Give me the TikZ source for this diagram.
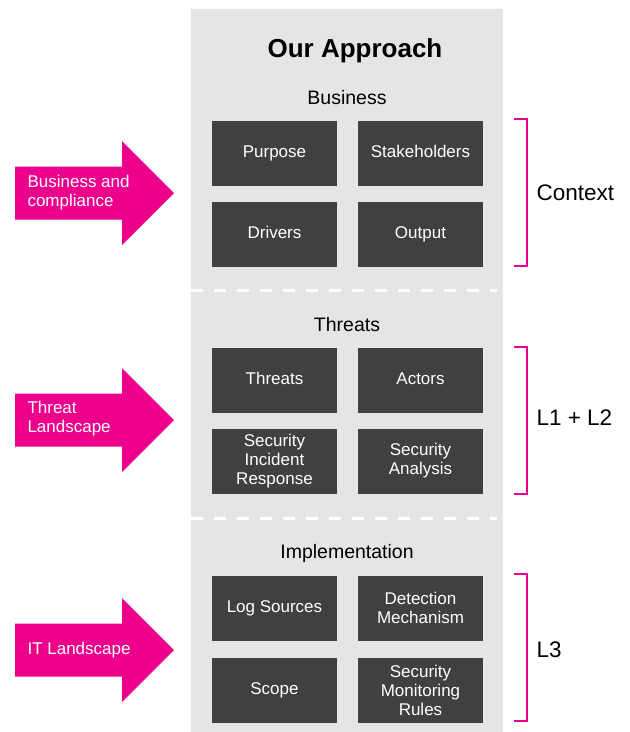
\documentclass[tikz,border=0pt]{standalone}
\usepackage{fontspec}
\setmainfont{Liberation Sans}
\usepackage{xcolor}
\definecolor{tmagenta}{HTML}{EC008C}
\definecolor{panelgray}{HTML}{E5E5E5}
\definecolor{boxgray}{HTML}{404040}

\begin{document}
\begin{tikzpicture}[x=1pt,y=-1pt,
    box/.style={fill=boxgray,text=white,minimum width=125pt,minimum height=65pt,inner sep=2pt,align=center,font=\fontsize{17}{19}\selectfont},
    onebox/.style={box,text height=12.5pt,text depth=3.5pt},
    heading/.style={font=\fontsize{19.5}{23}\selectfont},
    side/.style={anchor=west,font=\fontsize{22.5}{26}\selectfont},
    bracket/.style={draw=tmagenta,line width=2pt},
    divider/.style={draw=white,line width=3pt,dash pattern=on 12pt off 11pt},
    arrowtext/.style={anchor=west,align=left,text=white,font=\fontsize{17}{19}\selectfont}]

        \useasboundingbox (0,0) rectangle (630,732);
        \fill[panelgray] (191,9) rectangle (503,732);

        \node[font=\bfseries\fontsize{26}{30}\selectfont] (title) at (355,51) {Our Approach};

        \node[heading] (business) at (347,98) {Business};
        \node[onebox] (purpose) at (274.5,153) {Purpose};
        \node[onebox] (stakeholders) at (420.5,153) {Stakeholders};
        \node[onebox] (drivers) at (274.5,234) {Drivers};
        \node[onebox] (output) at (420.5,234) {Output};

        \draw[divider] (191,290) -- (497,290);

        \node[heading] (threats) at (347,325) {Threats};
        \node[onebox] (threatbox) at (274.5,380) {Threats};
        \node[onebox] (actors) at (420.5,380) {Actors};
        \node[box] (incident) at (274.5,461) {Security\\Incident\\Response};
        \node[box] (analysis) at (420.5,461) {Security\\Analysis};

        \draw[divider] (191,518) -- (497,518);

        \node[heading] (implementation) at (347,553) {Implementation};
        \node[onebox] (logsources) at (274.5,608) {Log Sources};
        \node[box] (detection) at (420.5,608) {Detection\\Mechanism};
        \node[onebox] (scope) at (274.5,690) {Scope};
        \node[box] (rules) at (420.5,690) {Security\\Monitoring\\Rules};

        \draw[bracket] (514,119) -- (527,119) -- (527,266) -- (514,266);
        \node[side] (context) at (533,193) {Context};

        \draw[bracket] (514,347) -- (527,347) -- (527,494) -- (514,494);
        \node[side] (lonetwo) at (533,418) {L1 + L2};

        \draw[bracket] (514,574) -- (527,574) -- (527,721) -- (514,721);
        \node[side] (lthree) at (533,650) {L3};

        \fill[tmagenta] (15,166.5) -- (122,166.5) -- (122,141) -- (174,193) -- (122,245) -- (122,219.5) -- (15,219.5) -- cycle;
        \node[arrowtext] (bizarrow) at (24,193) {Business and\\compliance};

        \fill[tmagenta] (15,393.5) -- (122,393.5) -- (122,368) -- (174,420) -- (122,472) -- (122,446.5) -- (15,446.5) -- cycle;
        \node[arrowtext] (threatarrow) at (24,419) {Threat\\Landscape};

        \fill[tmagenta] (15,623.5) -- (122,623.5) -- (122,598) -- (174,650) -- (122,702) -- (122,676.5) -- (15,676.5) -- cycle;
        \node[arrowtext] (itarrow) at (24,650) {IT Landscape};
    \end{tikzpicture}
\end{document}
